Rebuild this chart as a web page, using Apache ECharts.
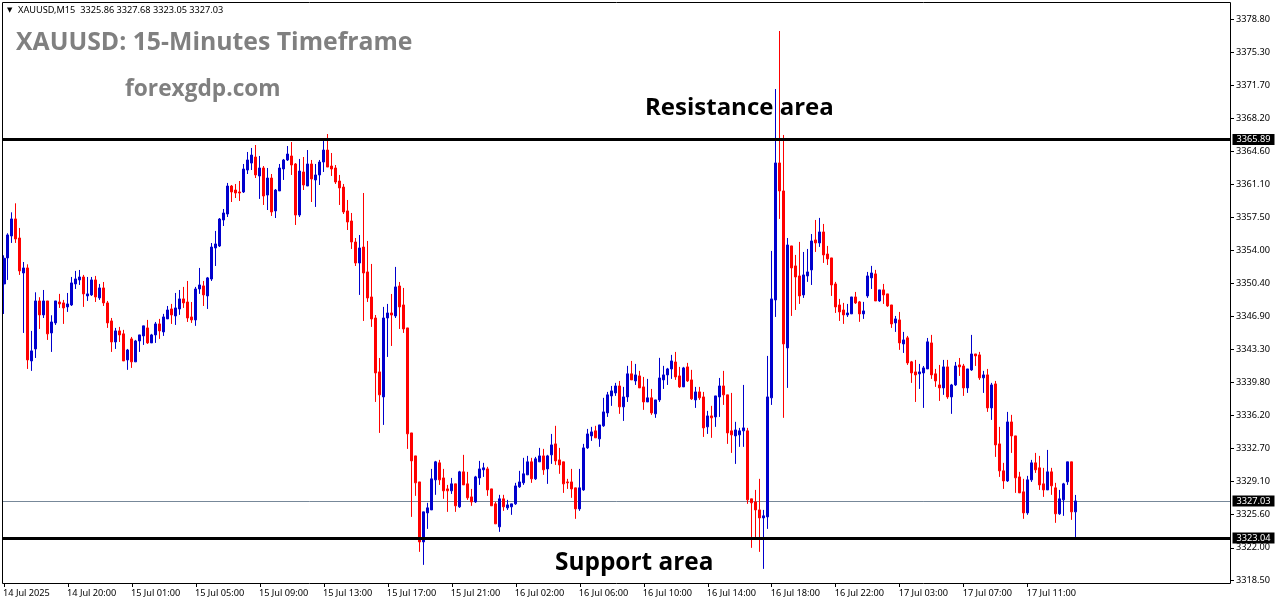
<!DOCTYPE html>
<html>
<head>
<meta charset="utf-8">
<style>
html, body { margin: 0; padding: 0; background: #fff; }
#chart { width: 1276px; height: 604px; }
</style>
<script src="https://cdn.jsdelivr.net/npm/echarts@6/dist/echarts.min.js"></script>
</head>
<body>
<div id="chart"></div>
<script>
// XAUUSD M15, values
const opens = [
3350.37,3353.17,3355.53,3357.36,3355.31,3351.55,3352.09,3342.09,3343.38,3348.54,
3347.04,3348.54,3345.10,3346.18,3348.43,3348.33,3347.90,3348.11,3350.37,3350.80,
3351.12,3349.08,3349.19,3350.80,3348.87,3349.94,3348.33,3346.39,3344.13,3345.32,
3345.00,3342.20,3344.46,3341.99,3344.24,3344.78,3345.64,3344.03,3344.89,3346.07,
3345.21,3346.61,3347.68,3346.93,3347.68,3348.76,3348.43,3346.82,3346.50,3349.83,
3350.16,3349.08,3350.90,3354.24,3354.45,3357.25,3357.89,3360.90,3360.47,3360.26,
3360.26,3362.62,3363.37,3364.02,3361.98,3362.84,3359.93,3361.76,3358.22,3360.37,
3362.73,3363.70,3364.13,3363.27,3357.78,3362.41,3360.90,3363.27,3361.55,3362.09,
3363.48,3364.77,3363.05,3362.84,3361.44,3360.79,3358.22,3357.14,3354.88,3352.62,
3354.34,3351.66,3348.97,3346.71,3340.91,3338.22,3346.71,3347.25,3346.93,3350.15,
3348.11,3345.64,3334.35,3331.88,3329.08,3322.63,3325.75,3326.07,3329.30,3331.13,
3329.51,3328.33,3328.12,3328.87,3326.40,3330.16,3328.87,3327.47,3326.93,3329.51,
3330.38,3330.48,3328.33,3326.72,3324.25,3327.26,3326.29,3326.40,3326.72,3328.55,
3328.98,3329.84,3331.24,3329.41,3331.24,3331.88,3330.48,3331.99,3333.17,3331.45,
3331.24,3329.08,3329.08,3328.44,3326.18,3328.22,3332.74,3334.03,3334.57,3333.71,
3335.11,3336.50,3338.33,3338.65,3339.40,3337.15,3338.22,3340.70,3339.94,3340.48,
3339.30,3337.68,3338.12,3336.40,3337.90,3340.05,3340.59,3341.23,3341.98,3340.48,
3339.30,3341.45,3340.05,3337.90,3338.76,3338.22,3335.00,3336.18,3336.07,3338.22,
3339.40,3338.44,3334.57,3334.03,3334.14,3334.57,3334.57,3327.26,3326.93,3326.07,
3325.21,3325.32,3338.12,3348.65,3363.38,3360.37,3343.49,3354.46,3352.31,3351.23,
3349.19,3351.23,3351.88,3355.10,3354.78,3355.96,3353.59,3353.17,3350.37,3348.11,
3347.57,3347.04,3347.15,3348.97,3348.44,3347.15,3349.08,3351.02,3351.45,3348.54,
3349.73,3349.30,3348.11,3346.18,3346.50,3343.92,3344.57,3341.99,3340.91,3340.70,
3340.80,3341.23,3344.03,3340.70,3339.51,3339.19,3341.45,3338.22,3339.51,3341.66,
3341.55,3339.19,3341.12,3342.84,3342.74,3340.27,3340.59,3337.04,3339.62,3333.17,
3330.27,3329.19,3335.53,3334.03,3329.62,3328.01,3325.75,3329.30,3331.13,3330.59,
3328.87,3328.22,3330.16,3328.44,3325.65,3327.15,3329.09,3331.24,3325.86
];
const closes = [
3353.13,3355.64,3357.36,3355.21,3351.77,3352.09,3342.20,3343.17,3348.54,3347.04,
3348.54,3345.00,3346.28,3348.54,3348.22,3347.79,3348.22,3350.48,3350.91,3351.12,
3349.30,3349.30,3350.80,3348.97,3349.94,3348.33,3346.18,3344.13,3345.32,3344.89,
3342.09,3343.27,3341.99,3344.24,3344.89,3345.86,3344.03,3344.89,3346.07,3345.32,
3346.82,3347.57,3347.04,3347.79,3348.76,3348.33,3346.71,3346.50,3349.83,3350.26,
3349.19,3351.02,3354.34,3354.67,3357.35,3358.00,3360.90,3360.26,3360.15,3360.15,
3362.73,3363.70,3364.23,3362.09,3362.84,3359.83,3361.76,3358.11,3360.47,3362.84,
3363.70,3364.34,3363.16,3357.78,3362.51,3361.01,3363.27,3361.66,3362.09,3363.48,
3364.77,3362.94,3362.73,3361.33,3360.69,3358.11,3357.03,3354.88,3352.62,3354.24,
3351.55,3348.86,3346.61,3340.80,3338.44,3346.71,3347.25,3347.03,3350.05,3347.90,
3345.53,3334.25,3331.34,3328.98,3322.63,3325.86,3326.29,3329.41,3331.24,3329.30,
3328.12,3328.12,3328.87,3326.51,3330.16,3328.76,3327.37,3326.93,3329.62,3330.48,
3330.59,3328.22,3326.51,3324.57,3327.26,3326.40,3326.61,3326.72,3328.65,3329.08,
3329.95,3331.24,3329.41,3331.56,3331.88,3330.38,3331.88,3333.06,3331.34,3330.91,
3328.87,3328.98,3328.33,3326.18,3328.44,3332.74,3334.24,3334.46,3333.82,3335.21,
3336.61,3338.44,3338.87,3339.40,3337.15,3338.22,3340.70,3340.05,3340.59,3339.19,
3337.68,3338.12,3336.50,3337.90,3340.26,3340.59,3341.23,3342.09,3340.37,3339.30,
3341.34,3339.94,3338.01,3338.76,3338.12,3334.89,3336.18,3335.97,3338.33,3339.40,
3338.44,3334.35,3334.14,3334.67,3334.57,3334.89,3327.15,3326.83,3326.07,3325.21,
3325.43,3338.22,3348.76,3363.38,3360.37,3343.92,3354.56,3352.09,3351.12,3349.08,
3351.34,3351.66,3354.99,3354.78,3355.96,3353.49,3353.06,3350.26,3347.90,3347.36,
3347.04,3347.25,3348.97,3348.33,3347.15,3347.47,3351.23,3351.55,3348.54,3349.73,
3349.19,3348.01,3346.07,3346.61,3344.03,3344.35,3341.88,3340.80,3340.59,3340.91,
3341.34,3344.14,3340.59,3339.94,3339.19,3341.45,3338.22,3339.51,3341.55,3341.45,
3339.19,3341.23,3342.84,3342.63,3340.27,3340.59,3337.04,3339.51,3333.06,3330.27,
3329.19,3335.53,3334.03,3329.52,3327.90,3325.75,3329.30,3331.13,3330.38,3328.76,
3328.22,3330.16,3328.66,3325.65,3327.26,3328.87,3331.24,3325.86,3327.03
];
const lows = [
3347.14,3350.80,3354.78,3354.78,3351.34,3345.10,3341.23,3341.02,3342.41,3345.53,
3346.71,3344.35,3343.06,3345.96,3347.79,3346.07,3347.36,3348.00,3349.83,3350.26,
3347.90,3348.54,3349.08,3348.43,3348.65,3348.00,3345.64,3343.06,3343.38,3344.13,
3342.09,3341.13,3341.34,3341.99,3343.06,3343.81,3343.92,3344.03,3344.03,3344.46,
3344.78,3346.61,3346.07,3345.96,3347.04,3347.79,3346.28,3346.18,3345.86,3349.30,
3348.00,3347.68,3350.69,3352.30,3354.34,3356.60,3357.57,3359.18,3359.61,3359.29,
3360.15,3362.19,3362.62,3361.76,3359.51,3358.86,3358.32,3357.68,3357.46,3360.37,
3361.55,3363.59,3362.09,3356.71,3357.57,3360.47,3360.90,3359.18,3358.65,3361.01,
3362.41,3362.94,3361.98,3361.12,3358.86,3357.89,3356.17,3354.13,3352.30,3349.19,
3346.39,3348.43,3345.75,3337.68,3334.35,3335.21,3342.52,3343.70,3346.71,3345.53,
3345.10,3332.63,3325.32,3327.58,3321.56,3320.16,3324.03,3326.07,3327.69,3328.76,
3327.26,3325.86,3327.79,3325.86,3326.29,3328.76,3327.15,3326.51,3326.83,3328.76,
3329.62,3327.58,3326.51,3324.57,3323.71,3325.97,3326.07,3325.54,3326.61,3328.44,
3328.76,3329.84,3328.98,3329.30,3331.24,3329.84,3328.87,3331.02,3330.91,3329.95,
3327.90,3328.33,3327.37,3325.11,3325.97,3328.12,3332.63,3333.49,3333.82,3332.85,
3335.00,3336.07,3337.26,3338.33,3336.40,3335.64,3337.68,3340.05,3339.51,3339.19,
3336.83,3337.68,3336.29,3335.97,3337.68,3339.08,3339.51,3340.16,3340.05,3339.19,
3339.30,3339.83,3337.90,3337.04,3337.90,3333.92,3334.24,3333.82,3335.00,3336.07,
3337.36,3333.17,3332.20,3331.02,3332.85,3332.85,3326.72,3321.99,3322.96,3321.56,
3319.73,3324.03,3337.36,3346.82,3357.36,3335.97,3339.19,3346.93,3347.57,3348.22,
3348.87,3350.59,3350.26,3353.81,3354.35,3352.63,3352.41,3349.08,3347.25,3346.39,
3346.07,3346.82,3347.15,3348.22,3346.29,3346.61,3348.87,3349.83,3348.54,3348.44,
3348.22,3347.90,3345.64,3345.21,3343.28,3342.95,3341.66,3339.73,3337.68,3339.08,
3337.04,3341.23,3340.16,3339.30,3337.79,3338.44,3338.01,3336.40,3339.40,3340.48,
3338.33,3338.65,3341.02,3341.55,3340.05,3338.65,3336.61,3335.75,3331.77,3329.62,
3328.33,3329.08,3332.20,3327.90,3327.90,3325.11,3325.54,3329.08,3330.05,3328.22,
3327.47,3328.22,3327.69,3324.68,3325.54,3325.43,3328.76,3325.00,3323.05
];
const highs = [
3353.45,3355.82,3358.07,3359.04,3356.39,3352.73,3352.48,3345.32,3349.47,3348.94,
3349.72,3348.54,3347.00,3348.54,3349.30,3348.65,3349.40,3351.12,3351.77,3351.87,
3351.34,3351.12,3351.12,3351.23,3350.37,3350.58,3348.54,3346.71,3345.64,3345.75,
3345.43,3343.38,3344.67,3344.35,3344.89,3345.86,3346.50,3345.00,3346.28,3346.61,
3347.15,3348.00,3348.22,3349.40,3349.72,3350.05,3350.69,3348.43,3350.05,3352.09,
3350.69,3351.12,3354.77,3356.07,3357.46,3358.43,3361.23,3361.01,3361.12,3361.44,
3363.27,3364.56,3364.99,3365.31,3364.13,3363.05,3362.84,3362.19,3360.58,3363.27,
3363.81,3365.20,3365.63,3363.37,3363.81,3364.02,3364.77,3363.70,3363.27,3363.70,
3365.85,3366.49,3364.45,3363.16,3362.09,3361.12,3359.40,3358.00,3355.31,3355.63,
3360.15,3354.99,3352.52,3347.03,3342.41,3347.90,3348.22,3349.29,3352.20,3350.58,
3349.94,3345.64,3334.35,3331.88,3329.08,3325.86,3326.83,3330.48,3331.34,3331.45,
3330.48,3328.76,3329.51,3328.87,3330.27,3331.99,3330.16,3328.33,3329.73,3331.34,
3331.13,3330.70,3328.33,3326.93,3327.69,3327.69,3327.15,3326.72,3328.98,3330.27,
3331.67,3331.88,3331.67,3331.77,3332.74,3332.63,3331.99,3334.24,3335.11,3332.74,
3331.24,3329.41,3330.48,3328.44,3330.48,3333.17,3334.78,3335.00,3335.11,3335.21,
3338.12,3338.76,3339.40,3339.73,3339.94,3339.30,3341.56,3342.09,3341.77,3341.02,
3340.37,3340.16,3339.08,3337.90,3342.42,3341.56,3341.34,3342.74,3343.06,3341.45,
3341.45,3341.88,3341.13,3339.30,3339.30,3338.76,3336.72,3337.26,3338.33,3340.26,
3341.02,3338.44,3338.65,3335.54,3334.89,3339.51,3334.89,3327.26,3328.22,3329.41,
3326.07,3342.63,3353.92,3371.33,3377.57,3366.39,3355.31,3354.46,3353.49,3354.89,
3353.81,3354.13,3355.74,3357.25,3357.47,3356.82,3354.46,3353.17,3350.59,3348.76,
3348.33,3348.22,3348.97,3349.51,3348.54,3348.44,3351.66,3352.31,3351.88,3349.73,
3350.37,3349.30,3348.11,3346.93,3347.36,3345.21,3344.78,3342.09,3342.20,3341.77,
3341.55,3344.56,3344.89,3341.23,3341.66,3342.20,3342.20,3339.62,3341.98,3342.41,
3341.77,3341.23,3344.89,3342.84,3343.06,3341.02,3341.23,3339.73,3339.94,3335.00,
3331.13,3336.61,3336.29,3334.03,3330.16,3329.41,3329.73,3331.45,3332.20,3331.88,
3330.59,3332.52,3330.59,3328.98,3328.22,3328.98,3331.24,3331.24,3327.68
];
// one time label every 16 bars, as on the platform's time scale
const timeTicks = ['14 Jul 2025','14 Jul 20:00','15 Jul 01:00','15 Jul 05:00','15 Jul 09:00','15 Jul 13:00',
    '15 Jul 17:00','15 Jul 21:00','16 Jul 02:00','16 Jul 06:00','16 Jul 10:00','16 Jul 14:00',
    '16 Jul 18:00','16 Jul 22:00','17 Jul 03:00','17 Jul 07:00','17 Jul 11:00'];
const priceTicks = [3378.8,3375.3,3371.7,3368.2,3364.6,3361.1,3357.5,3354.0,3350.4,3346.9,3343.3,3339.8,3336.2,3332.7,3329.1,3325.6,3322.0,3318.5];
const resistanceLevel = 3365.89;
const supportLevel = 3323.04;
const lastPrice = 3327.03;
const lastBar = { open: 3325.86, high: 3327.68, low: 3323.05, close: 3327.03 };

const AXIS_FONT = '"Noto Sans", sans-serif';

// x is the bar number; a value axis lets bar 0 sit off the whole pixel the grid snaps to
const candles = opens.map((o, i) => [i, o, closes[i], lows[i], highs[i]]);
const timeTickBars = timeTicks.map((t, i) => i * 16);

function levelLine(value, color, width) {
    return {
        yAxis: value,
        lineStyle: { color: color, width: width, type: 'solid' },
        label: {
            show: true,
            position: 'end',
            distance: 2.5,
            formatter: value.toFixed(2),
            color: '#fff',
            backgroundColor: '#000',
            padding: [1, 4, 1, 4],
            fontSize: 9.2,
            fontFamily: AXIS_FONT
        }
    };
}

function overlayText(x, y, text, font, fill) {
    return { type: 'text', x: x, y: y, z: 20, silent: true,
        style: { text: text, font: font, fill: fill, verticalAlign: 'middle' } };
}

const chart = echarts.init(document.getElementById('chart'), null, { renderer: 'canvas' });

chart.setOption({
    animation: false,
    backgroundColor: '#fff',
    grid: { left: 2, top: 3, width: 1228, height: 580, show: false },
    xAxis: {
        type: 'value',
        min: -0.4,
        max: 306.6,
        axisLine: { show: false, onZero: false },
        axisTick: { show: true, length: 4, customValues: timeTickBars, lineStyle: { color: '#000' } },
        axisLabel: {
            customValues: timeTickBars,
            formatter: v => timeTicks[Math.round(v / 16)],
            align: 'left',
            margin: 5,
            padding: [1, 0, 0, -1],
            color: '#000',
            fontSize: 9.2,
            fontFamily: AXIS_FONT
        },
        splitLine: { show: false }
    },
    yAxis: {
        type: 'value',
        position: 'right',
        min: 3318.21,
        max: 3380.58,
        offset: 1,
        axisLine: { show: false, onZero: false },
        axisTick: { show: true, length: 3, customValues: priceTicks, lineStyle: { color: '#000' } },
        axisLabel: {
            customValues: priceTicks,
            formatter: v => v.toFixed(2),
            margin: 5,
            padding: [4, 0, 0, 0],
            color: '#000',
            fontSize: 9.2,
            fontFamily: AXIS_FONT
        },
        splitLine: { show: false }
    },
    graphic: {
        elements: [
            { type: 'rect', z: 10, silent: true, shape: { x: 2.5, y: 2.5, width: 1228, height: 581 },
              style: { fill: 'none', stroke: '#000', lineWidth: 1 } },
            overlayText(7, 10.5, '\u25BC', '7px "DejaVu Sans"', '#000'),
            overlayText(18, 10.5, 'XAUUSD,M15  ' + [lastBar.open, lastBar.high, lastBar.low, lastBar.close].map(v => v.toFixed(2)).join(' '), '9.2px ' + AXIS_FONT, '#000'),
            overlayText(16, 43, 'XAUUSD: 15-Minutes Timeframe', 'bold 24.8px "Open Sans"', '#808080'),
            overlayText(125, 90, 'forexgdp.com', 'bold 22.7px "Open Sans"', '#808080'),
            overlayText(645, 108, 'Resistance area', 'bold 24px "Open Sans"', '#000'),
            overlayText(555, 563, 'Support area', 'bold 24.4px "Open Sans"', '#000')
        ]
    },
    series: [
        {
            // grey last-price line sits behind the candles
            type: 'line',
            data: [],
            z: 1,
            markLine: {
                silent: true,
                z: 1,
                symbol: 'none',
                animation: false,
                data: [levelLine(lastPrice, '#778899', 1)]
            }
        },
        {
            type: 'candlestick',
            data: candles,
            encode: { x: 0, y: [1, 2, 3, 4] },
            barWidth: 2.5, // 2.5 keeps every body 3px wide after pixel snapping
            z: 3,
            clip: false,
            itemStyle: {
                color: '#0000cd',
                color0: '#ff0000',
                borderColor: '#0000cd',
                borderColor0: '#ff0000',
                borderWidth: 1
            },
            markLine: {
                silent: true,
                z: 6,
                symbol: 'none',
                animation: false,
                data: [levelLine(resistanceLevel, '#000', 3), levelLine(supportLevel, '#000', 3)]
            }
        }
    ]
});
</script>
</body>
</html>
